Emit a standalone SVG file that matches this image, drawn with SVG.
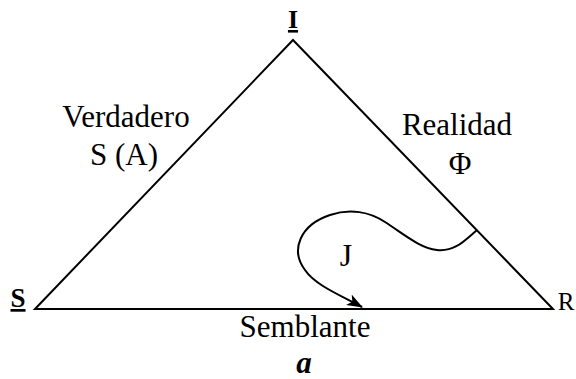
<svg xmlns="http://www.w3.org/2000/svg" width="576" height="379" viewBox="0 0 576 379">
<style>
.t{font-family:"Liberation Serif","Times New Roman",serif;fill:#000}
.ln{stroke:#000;stroke-width:2;fill:none}
</style>
<defs>
<marker id="ah" markerWidth="16" markerHeight="12" refX="15" refY="6" orient="auto" markerUnits="userSpaceOnUse" viewBox="0 0 16 12">
<path d="M0,0 L16,6 L0,12 L4,6 Z" fill="#000"/>
</marker>
</defs>
<g id="triangle">
<path class="ln" d="M35,309 L293,40 L553,309 Z"/>
</g>
<g id="connectors">
<path class="ln" d="M477,230 C465,240 455,252 437,250 C420,248 405,235 385,222 C370,212 350,208 330,215 C300,225 290,250 305,270 C315,285 340,295 362,307" marker-end="url(#ah)"/>
</g>
<g id="node-I"><text class="t" x="293" y="28" font-size="26" font-weight="bold" text-anchor="middle" text-decoration="underline">I</text></g>
<g id="node-S"><text class="t" x="18" y="307" font-size="27" font-weight="bold" text-anchor="middle" text-decoration="underline">S</text></g>
<g id="node-R"><text class="t" x="566" y="310" font-size="25" text-anchor="middle">R</text></g>
<g id="label-verdadero">
<text class="t" x="126" y="127" font-size="31" text-anchor="middle">Verdadero</text>
<text class="t" x="124" y="165" font-size="31" text-anchor="middle">S (A)</text>
</g>
<g id="label-realidad">
<text class="t" x="457" y="135" font-size="31" text-anchor="middle">Realidad</text>
<text class="t" x="460" y="174" font-size="31" text-anchor="middle">Φ</text>
</g>
<g id="label-J"><text class="t" x="346" y="266" font-size="32" text-anchor="middle">J</text></g>
<g id="label-semblante"><text class="t" x="305" y="337" font-size="31" text-anchor="middle">Semblante</text></g>
<g id="label-a"><text class="t" x="304" y="373" font-size="31" font-weight="bold" font-style="italic" text-anchor="middle">a</text></g>
</svg>
